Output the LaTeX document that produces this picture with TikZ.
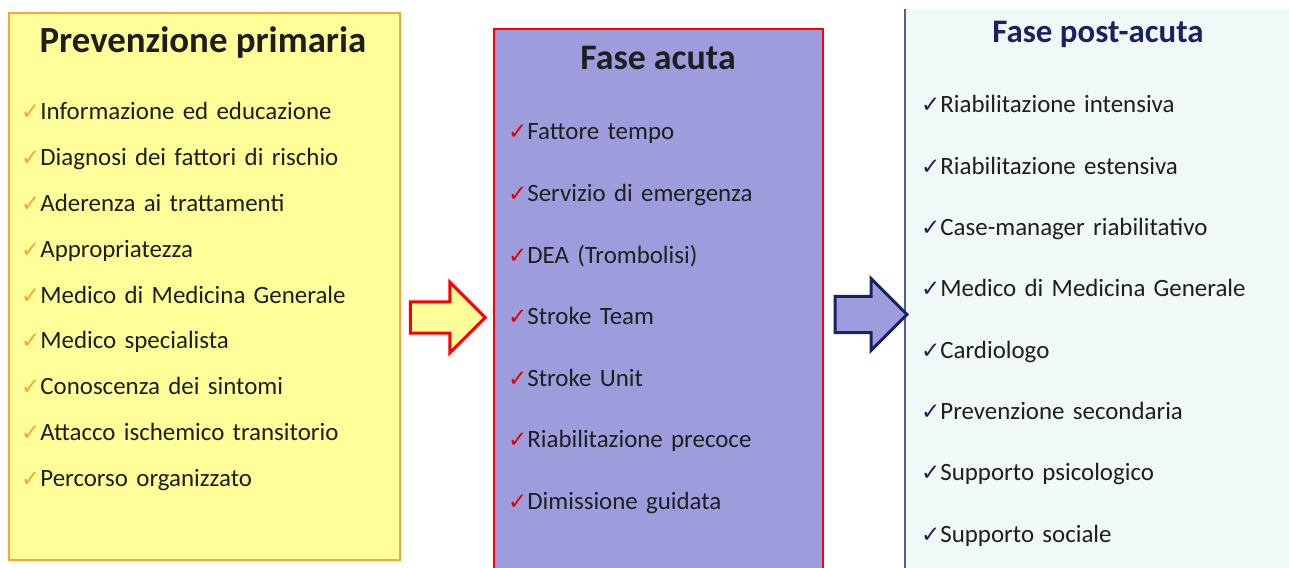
\documentclass[tikz,border=0pt]{standalone}
\usepackage{fontspec}
\setmainfont{Carlito}
\newfontfamily\checkfont{DejaVu Sans}
\usetikzlibrary{shapes.arrows, positioning}
\definecolor{primFill}{RGB}{255,255,153}
\definecolor{primDraw}{RGB}{250,165,60}
\definecolor{acuteFill}{RGB}{157,157,222}
\definecolor{postFill}{RGB}{240,248,248}
\definecolor{postDraw}{RGB}{80,95,145}
\definecolor{navy}{RGB}{25,35,95}
\definecolor{txtColor}{RGB}{30,30,30}
\colorlet{chkOrange}{primDraw}
\colorlet{chkRed}{red!90!black}
\newcommand{\ckm}[1]{{\checkfont\fontsize{23}{23}\selectfont\color{#1}\char"2713}}
\tikzstyle{phase}=[rectangle, inner sep=0, line width=2bp]
\tikzstyle{title}=[inner sep=0, font=\bfseries\fontsize{37}{37}\selectfont, text=txtColor]
\tikzstyle{item}=[inner sep=0, text width=370bp, align=left, text height=18bp,
text depth=6bp, font=\fontsize{25}{25}\selectfont, text=txtColor]
\tikzstyle{blockArrow}=[single arrow, single arrow head indent=0, inner xsep=0,
line width=3bp]

\begin{document}
\begin{tikzpicture}[x=1bp, y=-1bp]
      \useasboundingbox (0,0) rectangle (1289,568);
      \clip (0,0) rectangle (1289,568);
      % boxes
      \node(prim) [phase, fill=primFill, draw=primDraw, minimum width=391bp,
      minimum height=547bp] at (204.5,286.5) {};
      \node(acute) [phase, fill=acuteFill, draw=red, minimum width=329bp,
      minimum height=571bp] at (658.5,314.5) {};
      \node(post) [phase, fill=postFill, minimum width=394bp,
      minimum height=590bp] at (1103,305) {};
      \draw [postDraw, line width=2bp] (post.north west) -- (post.south west);
      % arrows
      \node(arrA) [blockArrow, fill=primFill, draw=red, minimum height=75bp,
      inner ysep=14bp, single arrow head extend=20bp] at (440,317.5) {};
      \node(arrB) [blockArrow, fill=acuteFill, draw=navy, minimum height=72bp,
      inner ysep=16.5bp, single arrow head extend=18bp] at (862,314.5) {};
      % prevenzione primaria
      \node(primTitle) [title, anchor=base] at (203,53) {Prevenzione primaria};
      \node(p1) [item, anchor=base west] at (21,120)
      {\ckm{chkOrange}Informazione ed educazione};
      \node(p2) [item, below=21.4bp of p1] {\ckm{chkOrange}Diagnosi dei fattori di rischio};
      \node(p3) [item, below=21.4bp of p2] {\ckm{chkOrange}Aderenza ai trattamenti};
      \node(p4) [item, below=21.4bp of p3] {\ckm{chkOrange}Appropriatezza};
      \node(p5) [item, below=21.4bp of p4] {\ckm{chkOrange}Medico di Medicina Generale};
      \node(p6) [item, below=21.4bp of p5] {\ckm{chkOrange}Medico specialista};
      \node(p7) [item, below=21.4bp of p6] {\ckm{chkOrange}Conoscenza dei sintomi};
      \node(p8) [item, below=21.4bp of p7] {\ckm{chkOrange}Attacco ischemico transitorio};
      \node(p9) [item, below=21.4bp of p8] {\ckm{chkOrange}Percorso organizzato};
      % fase acuta
      \node(acuteTitle) [title, font=\bfseries\fontsize{36}{36}\selectfont,
      anchor=base] at (658,70) {Fase acuta};
      \node(a1) [item, text width=310bp, anchor=base west] at (508,140)
      {\ckm{chkRed}Fattore tempo};
      \node(a2) [item, text width=310bp, below=37.2bp of a1] {\ckm{chkRed}Servizio di emergenza};
      \node(a3) [item, text width=310bp, below=37.2bp of a2] {\ckm{chkRed}DEA (Trombolisi)};
      \node(a4) [item, text width=310bp, below=37.2bp of a3] {\ckm{chkRed}Stroke Team};
      \node(a5) [item, text width=310bp, below=37.2bp of a4] {\ckm{chkRed}Stroke Unit};
      \node(a6) [item, text width=310bp, below=37.2bp of a5] {\ckm{chkRed}Riabilitazione precoce};
      \node(a7) [item, text width=310bp, below=37.2bp of a6] {\ckm{chkRed}Dimissione guidata};
      % fase post-acuta
      \node(postTitle) [title, text=navy, font=\bfseries\fontsize{33}{33}\selectfont,
      anchor=base] at (1098,43) {Fase post-acuta};
      \node(q1) [item, anchor=base west] at (921,113) {\ckm{navy}Riabilitazione intensiva};
      \node(q2) [item, below=36.9bp of q1] {\ckm{navy}Riabilitazione estensiva};
      \node(q3) [item, below=36.9bp of q2] {\ckm{navy}Case-manager riabilitativo};
      \node(q4) [item, below=36.9bp of q3] {\ckm{navy}Medico di Medicina Generale};
      \node(q5) [item, below=36.9bp of q4] {\ckm{navy}Cardiologo};
      \node(q6) [item, below=36.9bp of q5] {\ckm{navy}Prevenzione secondaria};
      \node(q7) [item, below=36.9bp of q6] {\ckm{navy}Supporto psicologico};
      \node(q8) [item, below=36.9bp of q7] {\ckm{navy}Supporto sociale};
    \end{tikzpicture}
\end{document}
